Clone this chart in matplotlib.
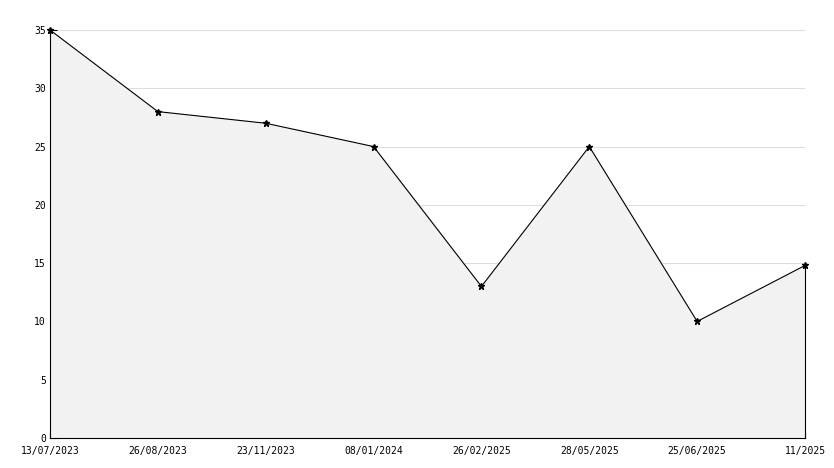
import matplotlib
matplotlib.use("Agg")
import matplotlib.pyplot as plt
from matplotlib.ticker import MultipleLocator

dates = ["13/07/2023", "26/08/2023", "23/11/2023", "08/01/2024",
         "26/02/2025", "28/05/2025", "25/06/2025", "11/2025"]
values = [35, 28, 27, 25, 13, 25, 10, 14.8]

plt.rcParams['font.family'] = ['DejaVu Sans Mono']
fig = plt.figure(figsize=(8.34, 4.68), dpi=100)
ax = fig.add_axes([50/834, 30/468, 755/834, 408/468])

x = list(range(len(dates)))
ax.fill_between(x, values, 0, color='#f2f2f2', zorder=1)
ax.plot(x, values, color='black', linewidth=0.8, marker='*', markersize=5,
        zorder=3, clip_on=False)
ax.plot([x[-1], x[-1]], [0, values[-1]], color='black', linewidth=0.8,
        zorder=2, clip_on=False)

ax.set_xlim(0, len(dates) - 1)
ax.set_ylim(0, 35)
ax.set_xticks(x)
ax.set_xticklabels(dates)
ax.yaxis.set_major_locator(MultipleLocator(5))
ax.yaxis.set_minor_locator(MultipleLocator(1))
ax.grid(axis='y', color='#dddddd', linewidth=0.8, zorder=0)
ax.set_axisbelow(True)
for s in ['top', 'right']:
    ax.spines[s].set_visible(False)
ax.tick_params(direction='in', labelsize=7, length=5, width=0.8, pad=3)
ax.tick_params(axis='x', pad=6)
ax.tick_params(which='minor', direction='in', length=3, width=0.8)

fig.savefig('out.png', dpi=100)
